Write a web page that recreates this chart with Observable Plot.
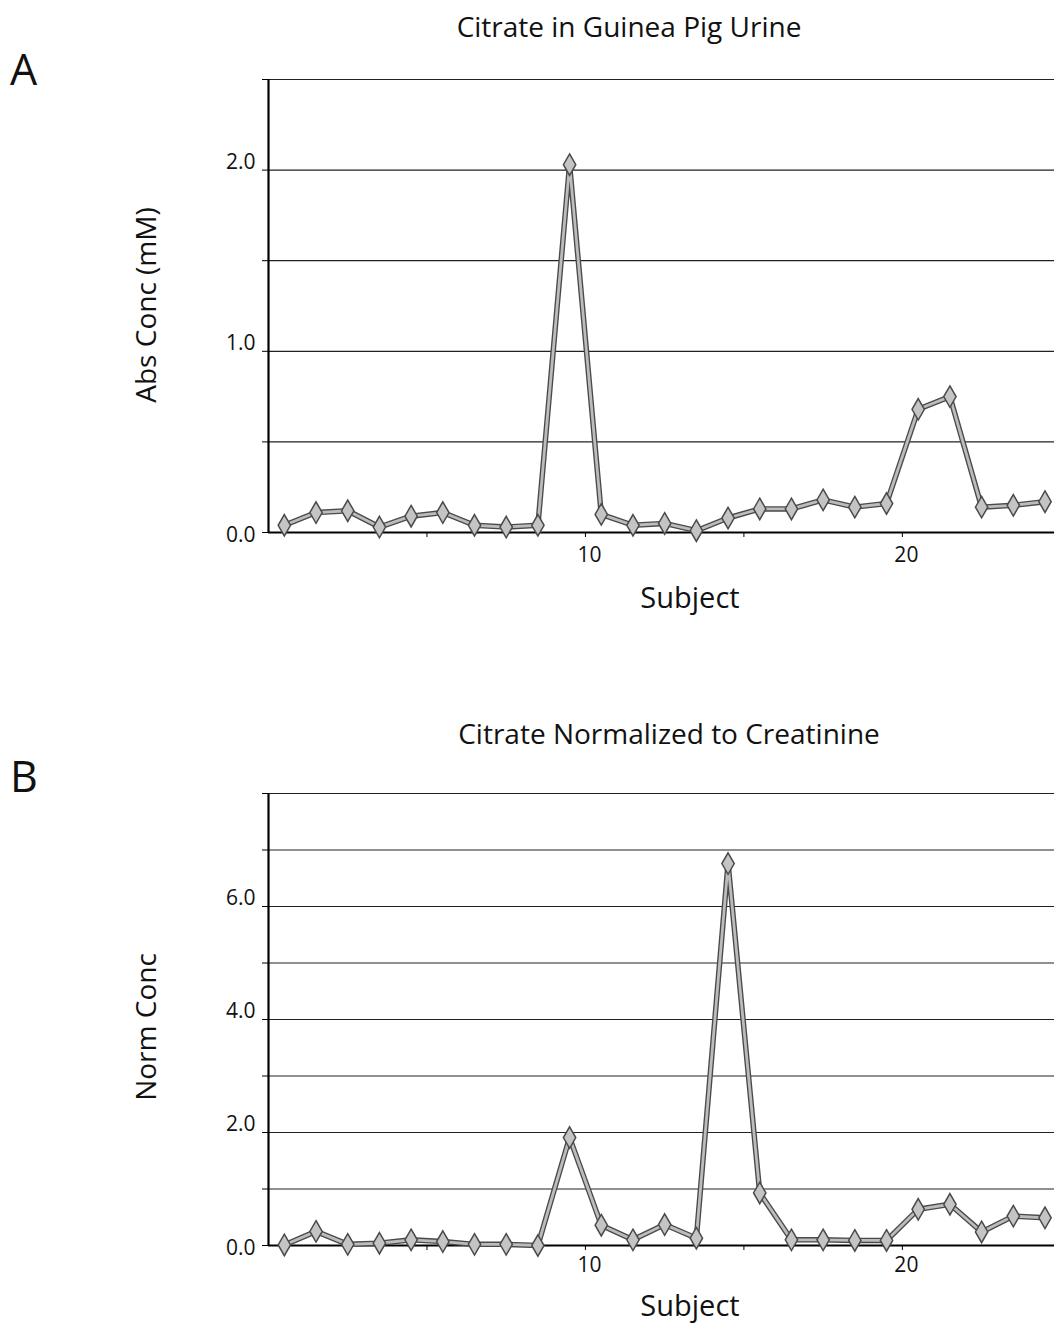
<!DOCTYPE html>
<html><head><meta charset="utf-8">
<script src="https://cdn.jsdelivr.net/npm/d3@7"></script>
<script src="https://cdn.jsdelivr.net/npm/@observablehq/plot@0.6"></script>
<style>
body{margin:0;background:#fff;font-family:"Open Sans","Noto Sans",sans-serif;}
#page{position:relative;width:1054px;height:1324px;overflow:hidden;}
.t{position:absolute;white-space:nowrap;color:#111;line-height:1;}
.svgwrap{position:absolute;left:0;}
</style></head>
<body><div id="page"></div>
<script>
const subjects = d3.range(1, 26);
const absConc = [0.04,0.11,0.12,0.03,0.09,0.11,0.04,0.03,0.04,2.03,0.10,0.04,0.05,0.01,0.08,0.13,0.13,0.18,0.14,0.16,0.68,0.75,0.14,0.15,0.17];
const normConc = [0.01,0.25,0.02,0.04,0.10,0.07,0.02,0.02,0.00,1.91,0.36,0.10,0.37,0.13,6.76,0.93,0.10,0.10,0.09,0.09,0.64,0.73,0.24,0.52,0.49];
const xTicks = [5,10,15,20];
const xLabelTicks = [10,20];
const yTicksA = [0,0.5,1,1.5,2,2.5];
const yLabelTicksA = [0,1,2];
const yTicksB = [0,1,2,3,4,5,6,7,8];
const yLabelTicksB = [0,2,4,6];

const page = document.getElementById("page");
function addText(txt, left, top, size, extra){
  const d = document.createElement("div");
  d.className = "t"; d.textContent = txt;
  d.style.left = left+"px"; d.style.top = top+"px"; d.style.fontSize = size+"px";
  if (extra) Object.assign(d.style, extra);
  page.appendChild(d);
  return d;
}

function panel(values, yMax, yTicks, yLabelTicks, top, height, marginTop, marginBottom, xPad){
  const data = subjects.map((s,i)=>({x: s-0.5, y: values[i]}));
  const gridTicks = yTicks.filter(t=>t>0);
  const fmt = d3.format(".1f");
  const chart = Plot.plot({
    width:1054, height, marginLeft:268, marginRight:0, marginTop, marginBottom,
    style:{fontFamily:"'Open Sans','Noto Sans',sans-serif", fontSize:"21px", color:"#111", background:"#fff"},
    x:{domain:[0,24.8], axis:null},
    y:{domain:[0,yMax], axis:null},
    marks:[
      Plot.ruleY(gridTicks, {stroke:"#222", strokeWidth:1.2}),
      Plot.ruleY([0], {stroke:"#000", strokeWidth:2.2}),
      Plot.ruleX([0], {stroke:"#000", strokeWidth:2.2}),
      // tick marks
      Plot.axisY(yTicks, {label:null, tickSize:6, tickFormat:()=>"", stroke:"#000"}),
      Plot.axisX(xTicks, {label:null, tickSize:5, tickFormat:()=>"", stroke:"#000"}),
      // tick labels
      Plot.axisY(yLabelTicks.filter(t=>t>0), {label:null, tickSize:0, tickPadding:13, dy:-8, tickFormat:fmt, fontSize:21}),
      Plot.axisY([0], {label:null, tickSize:0, tickPadding:13, dy:3, tickFormat:fmt, fontSize:21}),
      Plot.axisX(xLabelTicks, {label:null, tickSize:0, tickPadding:xPad, dx:4, tickFormat:d=>String(d), fontSize:21}),
      Plot.line(data, {x:"x", y:"y", stroke:"#4a4a4a", strokeWidth:5.5}),
      Plot.line(data, {x:"x", y:"y", stroke:"#bcbcbc", strokeWidth:2.8}),
      Plot.dot(data, {x:"x", y:"y", symbol:"diamond", r:6.5, fill:"#c4c4c4", stroke:"#4a4a4a", strokeWidth:1.5})
    ]
  });
  const w = document.createElement("div");
  w.className = "svgwrap"; w.style.top = top+"px";
  w.appendChild(chart);
  page.appendChild(w);
}

panel(absConc, 2.5, yTicksA, yLabelTicksA, 0, 640, 79, 108, 15);
panel(normConc, 8, yTicksB, yLabelTicksB, 700, 624, 93, 79, 12);

addText("A", 10, 47, 43);
addText("B", 10, 754, 43);
addText("Citrate in Guinea Pig Urine", 629, 12, 28, {transform:"translateX(-50%)"});
addText("Citrate Normalized to Creatinine", 669, 719, 28, {transform:"translateX(-50%)"});
addText("Subject", 690, 582, 29, {transform:"translateX(-50%)"});
addText("Subject", 690, 1290, 29, {transform:"translateX(-50%)"});
addText("Abs Conc (mM)", 145, 305, 28, {transform:"translate(-50%,-50%) rotate(-90deg)"});
addText("Norm Conc", 145, 1027, 28, {transform:"translate(-50%,-50%) rotate(-90deg)"});
</script></body></html>
